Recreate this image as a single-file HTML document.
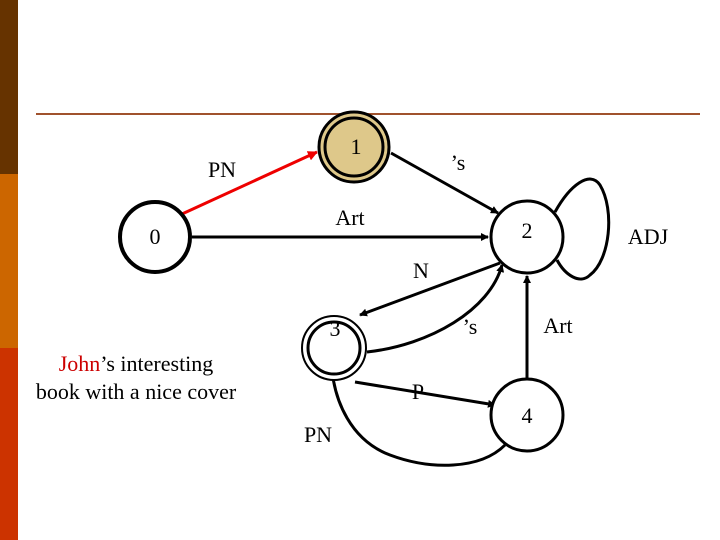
<!DOCTYPE html>
<html><head><style>
body{margin:0;width:720px;height:540px;background:#fff;overflow:hidden;position:relative;font-family:"Liberation Serif",serif;}
</style></head><body>
<div style="position:absolute;left:0;top:0;width:18px;height:174px;background:#663300"></div>
<div style="position:absolute;left:0;top:174px;width:18px;height:174px;background:#cc6600"></div>
<div style="position:absolute;left:0;top:348px;width:18px;height:192px;background:#cc3300"></div>
<svg width="720" height="540" style="position:absolute;left:0;top:0" font-family="Liberation Serif, serif" font-size="22">
<defs>
<marker id="a" markerWidth="8" markerHeight="8" refX="7" refY="4" orient="auto" markerUnits="userSpaceOnUse"><path d="M0,0 L8,4 L0,8z" fill="#000"/></marker>
<marker id="r" markerWidth="10" markerHeight="10" refX="9" refY="5" orient="auto" markerUnits="userSpaceOnUse"><path d="M0,0 L10,5 L0,10z" fill="#e00"/></marker>
</defs>
<line x1="36" y1="114" x2="700" y2="114" stroke="#a0522d" stroke-width="2"/>
<!-- edges -->
<line x1="182" y1="214" x2="317" y2="152" stroke="#e00" stroke-width="3" marker-end="url(#r)"/>
<line x1="391" y1="153" x2="498" y2="213" stroke="#000" stroke-width="3" marker-end="url(#a)"/>
<line x1="192" y1="237" x2="488" y2="237" stroke="#000" stroke-width="3" marker-end="url(#a)"/>
<path d="M555,212 C570,185 590,170 600,185 C615,210 610,260 590,275 C580,285 565,275 557,260" fill="none" stroke="#000" stroke-width="3" marker-start="url(#a)"/>
<line x1="500" y1="263" x2="360" y2="315" stroke="#000" stroke-width="3" marker-end="url(#a)"/>
<path d="M367,352 C430,345 490,310 502,265" fill="none" stroke="#000" stroke-width="3" marker-end="url(#a)"/>
<line x1="527" y1="378" x2="527" y2="276" stroke="#000" stroke-width="3" marker-end="url(#a)"/>
<line x1="355" y1="382" x2="495" y2="405" stroke="#000" stroke-width="3" marker-end="url(#a)"/>
<path d="M505,445 C480,470 430,470 390,455 C350,440 335,400 332,370" fill="none" stroke="#000" stroke-width="3" marker-end="url(#a)"/>
<!-- nodes -->
<circle cx="155" cy="237" r="35" fill="#fff" stroke="#000" stroke-width="4"/>
<circle cx="354" cy="147" r="35" fill="#dec88a" stroke="#000" stroke-width="3"/>
<circle cx="354" cy="147" r="29" fill="#dec88a" stroke="#000" stroke-width="3"/>
<circle cx="527" cy="237" r="36" fill="#fff" stroke="#000" stroke-width="3"/>
<circle cx="334" cy="348" r="32" fill="#fff" stroke="#000" stroke-width="2"/>
<circle cx="334" cy="348" r="26" fill="#fff" stroke="#000" stroke-width="3"/>
<circle cx="527" cy="415" r="36" fill="#fff" stroke="#000" stroke-width="3"/>
<g text-anchor="middle" fill="#000">
<text x="155" y="244">0</text><text x="356" y="154">1</text><text x="527" y="238">2</text>
<text x="335" y="336">3</text><text x="527" y="423">4</text>
<text x="222" y="177">PN</text><text x="458" y="170">’s</text><text x="350" y="225">Art</text>
<text x="648" y="244">ADJ</text><text x="421" y="278">N</text><text x="470" y="334">’s</text>
<text x="558" y="333">Art</text><text x="418" y="399">P</text><text x="318" y="442">PN</text>
<text x="136" y="371"><tspan fill="#c00">John</tspan>’s interesting</text>
<text x="136" y="399">book with a nice cover</text>
</g>
</svg>
</body></html>
